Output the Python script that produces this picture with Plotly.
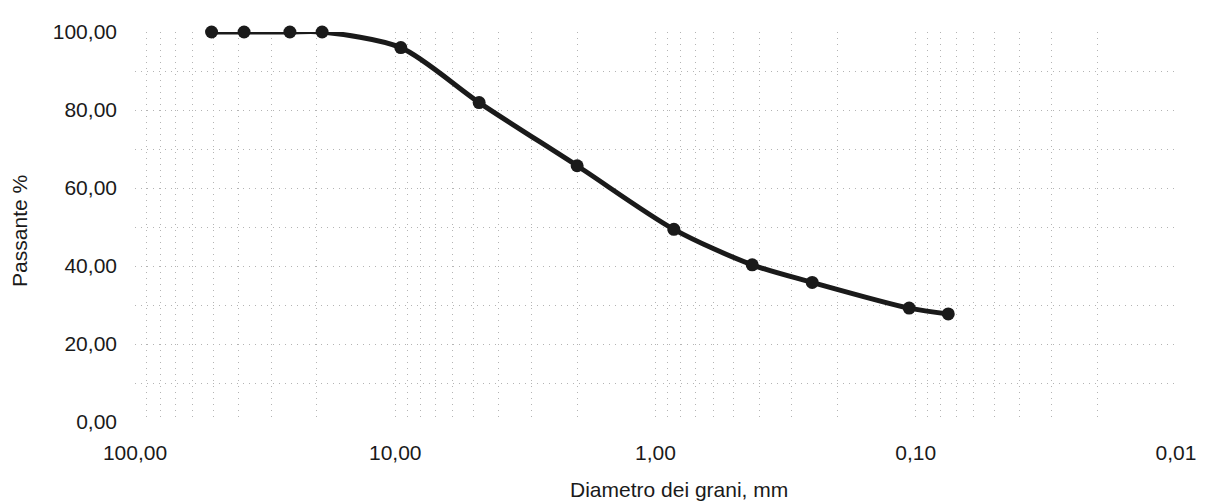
import plotly.graph_objects as go

# Sieve diameters (mm) and percent passing
diametro_mm = [50.8, 38.1, 25.4, 19.1, 9.52, 4.76, 2.0, 0.85, 0.425, 0.25, 0.106, 0.075]
passante = [100.0, 100.0, 100.0, 100.0, 96.0, 81.9, 65.7, 49.4, 40.3, 35.8, 29.2, 27.7]

x_tick_vals = [100, 10, 1, 0.1, 0.01]
y_tick_vals = [0, 20, 40, 60, 80, 100]

font_family = "Liberation Sans, Arial, sans-serif"
text_color = "#1a1a1a"
grid_color = "#b4b4b4"
grid_dash = "1px,5px"

fig = go.Figure()
fig.add_trace(go.Scatter(
    x=diametro_mm, y=passante,
    mode="lines+markers",
    line=dict(color="#1a1a1a", width=5, shape="spline", smoothing=0.8),
    marker=dict(color="#1a1a1a", size=13),
    cliponaxis=False,
    showlegend=False,
))

# page body has an 8px margin, so the figure is sized 8px smaller
fig.update_layout(
    width=1200, height=493,
    margin=dict(l=127, r=25, t=17, b=79),
    paper_bgcolor="white", plot_bgcolor="white",
    separators=",.",
    font=dict(family=font_family, size=21, color=text_color),
    xaxis=dict(
        type="log", range=[2, -2], autorange=False,
        tickvals=x_tick_vals, tickformat=".2f",
        showgrid=True, gridcolor=grid_color, griddash=grid_dash, gridwidth=1,
        minor=dict(dtick="D1", showgrid=True, gridcolor=grid_color, griddash=grid_dash, gridwidth=1),
        showline=False, zeroline=False, ticks="",
        ticklabelstandoff=16,
        tickfont=dict(size=21),
    ),
    yaxis=dict(
        range=[0, 100], autorange=False,
        tickvals=y_tick_vals, tickformat=".2f",
        showgrid=True, gridcolor=grid_color, griddash=grid_dash, gridwidth=1,
        minor=dict(dtick=10, showgrid=True, gridcolor=grid_color, griddash=grid_dash, gridwidth=1),
        showline=False, zeroline=False, ticks="",
        ticklabelstandoff=17,
        tickfont=dict(size=21),
    ),
)

fig.add_annotation(
    text="Diametro dei grani, mm", xref="paper", yref="paper",
    x=0.523, y=0, yshift=-67, xanchor="center", yanchor="middle",
    showarrow=False, font=dict(size=21, family=font_family, color=text_color),
)
fig.add_annotation(
    text="Passante %", xref="paper", yref="paper",
    x=0, xshift=-115, y=0.49, xanchor="center", yanchor="middle", textangle=-90,
    showarrow=False, font=dict(size=21, family=font_family, color=text_color),
)

fig.write_html("out.html")
